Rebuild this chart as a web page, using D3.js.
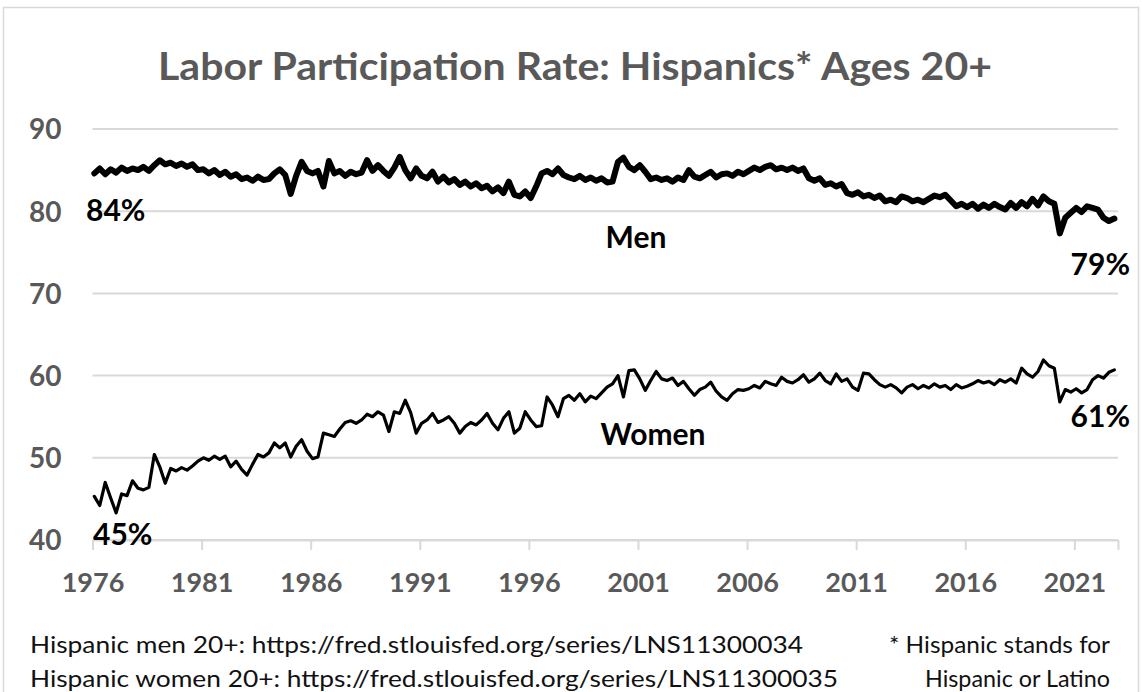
<!DOCTYPE html>
<html>
<head>
<meta charset="utf-8">
<script src="https://cdn.jsdelivr.net/npm/d3@7"></script>
<style>
  html, body { margin: 0; padding: 0; background: #fff; }
  svg { display: block; }
  text { font-family: Lato, "Open Sans", sans-serif; }
</style>
</head>
<body>
<svg id="chart" width="1142" height="692"></svg>
<script>
// ---------------- DATA ----------------
const startYear = 1976;               // first quarter = Q1 1976
const yTickValues = [40, 50, 60, 70, 80, 90];
const xTickValues = [1976, 1981, 1986, 1991, 1996, 2001, 2006, 2011, 2016, 2021];
const titleText = "Labor Participation Rate: Hispanics* Ages 20+";

// Hispanic men 20+, quarterly readings (%), 1976 Q1 .. 2022 Q4
const menRate = [
  84.6, 85.2, 84.5, 85.1,  84.7, 85.3, 84.9, 85.2,  85.0, 85.4, 84.9, 85.6,
  86.2, 85.7, 85.9, 85.5,  85.8, 85.4, 85.7, 85.0,  85.1, 84.6, 85.0, 84.4,
  84.8, 84.2, 84.5, 83.9,  84.1, 83.7, 84.2, 83.8,  83.9, 84.6, 85.1, 84.4,
  82.1, 84.3, 86.0, 84.9,  84.6, 84.9, 83.0, 86.1,  84.6, 84.9, 84.3, 84.8,
  84.5, 84.7, 86.2, 84.9,  85.6, 84.9, 84.3, 85.3,  86.6, 85.0, 84.0, 85.2,
  84.3, 84.0, 84.8, 83.6,  84.2, 83.5, 83.9, 83.2,  83.6, 83.0, 83.4, 82.8,
  83.1, 82.4, 82.9, 82.2,  83.6, 82.0, 81.8, 82.4,  81.6, 83.0, 84.6, 84.9,
  84.5, 85.2, 84.4, 84.1,  83.9, 84.3, 83.8, 84.1,  83.7, 84.0, 83.5, 83.6,
  86.0, 86.5, 85.4, 85.0,  85.6, 84.8, 83.9, 84.1,  83.8, 84.0, 83.6, 84.1,
  83.8, 85.0, 84.2, 84.0,  84.4, 84.8, 84.1, 84.5,  84.6, 84.3, 84.8, 84.5,
  84.9, 85.3, 85.0, 85.4,  85.6, 85.1, 85.3, 85.0,  85.3, 84.9, 85.2, 84.0,
  83.7, 84.0, 83.2, 83.4,  83.0, 83.3, 82.2, 82.0,  82.3, 81.8, 82.0, 81.6,
  81.9, 81.2, 81.4, 81.1,  81.8, 81.6, 81.2, 81.4,  81.1, 81.5, 81.9, 81.7,
  82.0, 81.3, 80.6, 80.9,  80.5, 80.9, 80.3, 80.8,  80.4, 80.9, 80.5, 80.2,
  81.0, 80.4, 81.1, 80.6,  81.5, 80.7, 81.8, 81.2,  80.9, 77.3, 79.2, 79.8,
  80.4, 79.9, 80.6, 80.4,  80.2, 79.2, 78.8, 79.1
];

// Hispanic women 20+, quarterly readings (%), 1976 Q1 .. 2022 Q4
const womenRate = [
  45.3, 44.2, 47.0, 45.1,  43.3, 45.6, 45.4, 47.2,  46.3, 46.1, 46.4, 50.4,
  48.9, 46.9, 48.7, 48.4,  48.8, 48.5, 49.0, 49.6,  50.0, 49.7, 50.2, 49.8,
  50.2, 48.9, 49.6, 48.6,  47.9, 49.2, 50.4, 50.1,  50.6, 51.8, 51.2, 51.8,
  50.1, 51.4, 52.2, 50.8,  49.9, 50.1, 53.0, 52.8,  52.6, 53.5, 54.3, 54.5,
  54.2, 54.6, 55.3, 55.0,  55.6, 55.2, 53.2, 55.6,  55.4, 57.0, 55.5, 53.0,
  54.2, 54.6, 55.4, 54.3,  54.6, 55.0, 54.2, 53.0,  53.8, 54.3, 54.0, 54.6,
  55.4, 54.2, 53.4, 54.8,  55.6, 53.0, 53.6, 55.6,  54.6, 53.8, 53.9, 57.4,
  56.4, 55.0, 57.2, 57.6,  57.0, 57.8, 56.8, 57.5,  57.2, 57.9, 58.6, 59.0,
  60.0, 57.4, 60.6, 60.7,  59.6, 58.2, 59.4, 60.5,  59.6, 59.4, 59.7, 58.8,
  59.3, 58.4, 57.6, 58.3,  58.6, 59.2, 58.1, 57.4,  57.0, 57.8, 58.3, 58.2,
  58.4, 58.8, 58.5, 59.3,  59.0, 58.8, 59.8, 59.3,  59.1, 59.5, 60.1, 59.2,
  59.6, 60.3, 59.4, 59.0,  60.2, 59.3, 59.6, 58.6,  58.2, 60.3, 60.2, 59.5,
  58.9, 58.6, 58.9, 58.5,  57.9, 58.6, 58.9, 58.4,  58.8, 58.5, 59.0, 58.6,
  58.8, 58.3, 58.9, 58.5,  58.7, 59.0, 59.4, 59.1,  59.3, 58.9, 59.5, 59.2,
  59.6, 59.1, 60.9, 60.2,  59.8, 60.5, 61.9, 61.2,  60.9, 56.8, 58.3, 58.0,
  58.4, 57.9, 58.3, 59.5,  60.0, 59.7, 60.4, 60.7
];

const footerLeft = [
  "Hispanic men 20+: https://fred.stlouisfed.org/series/LNS11300034",
  "Hispanic women 20+: https://fred.stlouisfed.org/series/LNS11300035"
];
const footerRight = ["* Hispanic stands for", "Hispanic or Latino"];

// ---------------- CHART ----------------
const svg = d3.select("#chart");
const plot = { left: 92.5, right: 1118, top: 129, bottom: 540 };
const grey = "#595959";
const gridColor = "#d9d9d9";

svg.append("rect").attr("width", 1142).attr("height", 692).attr("fill", "#fff");
svg.append("rect")
  .attr("x", 3.5).attr("y", 7.5).attr("width", 1135).attr("height", 700)
  .attr("fill", "none").attr("stroke", gridColor).attr("stroke-width", 1.5);

const x = d3.scaleLinear().domain([1976, 2023]).range([plot.left, plot.right]);
const y = d3.scaleLinear().domain([40, 90]).range([plot.bottom, plot.top]);

// title
svg.append("text")
  .attr("x", 575).attr("y", 80)
  .attr("text-anchor", "middle")
  .attr("font-size", 38).attr("font-weight", 700)
  .attr("fill", grey)
  .attr("textLength", 834).attr("lengthAdjust", "spacingAndGlyphs")
  .text(titleText);

// gridlines
svg.append("g").selectAll("line")
  .data(yTickValues)
  .join("line")
  .attr("x1", plot.left).attr("x2", plot.right)
  .attr("y1", d => y(d)).attr("y2", d => y(d))
  .attr("stroke", gridColor).attr("stroke-width", 2);

// y axis labels
const yAxis = d3.axisLeft(y).tickValues(yTickValues).tickSize(0).tickPadding(31).tickFormat(d3.format("d"));
const gy = svg.append("g").attr("transform", `translate(${plot.left},0)`).call(yAxis);
gy.select(".domain").remove();
gy.selectAll("text")
  .attr("font-family", "Lato, sans-serif")
  .attr("font-size", 28).attr("font-weight", 700).attr("fill", grey)
  .attr("dy", "0.35em");

// x axis
const xAxis = d3.axisBottom(x).tickValues(xTickValues.concat([2023])).tickSizeInner(10).tickSizeOuter(0)
  .tickPadding(23).tickFormat(d => d === 2023 ? "" : String(d));
const gx = svg.append("g").attr("transform", `translate(0,${plot.bottom})`).call(xAxis);
gx.select(".domain").attr("stroke", gridColor).attr("stroke-width", 2);
gx.selectAll(".tick line").attr("stroke", gridColor).attr("stroke-width", 2);
gx.selectAll("text")
  .attr("font-family", "Lato, sans-serif")
  .attr("font-size", 27).attr("font-weight", 700).attr("fill", grey)
  .attr("dy", "0.71em");

// lines
const tOf = i => startYear + (3 * i + 1) / 12;
const line = d3.line().x((d, i) => x(tOf(i))).y(d => y(d)).curve(d3.curveLinear);

svg.append("path").datum(womenRate)
  .attr("d", line).attr("fill", "none")
  .attr("stroke", "#000").attr("stroke-width", 3.2)
  .attr("stroke-linejoin", "round").attr("stroke-linecap", "round");

svg.append("path").datum(menRate)
  .attr("d", line).attr("fill", "none")
  .attr("stroke", "#000").attr("stroke-width", 6)
  .attr("stroke-linejoin", "round").attr("stroke-linecap", "round");

// annotations
const notes = [
  { t: "84%", x: 86, y: 221, a: "start" },
  { t: "Men", x: 636, y: 248, a: "middle" },
  { t: "79%", x: 1130, y: 275, a: "end" },
  { t: "Women", x: 653, y: 445, a: "middle" },
  { t: "61%", x: 1130, y: 427, a: "end" },
  { t: "45%", x: 93, y: 545, a: "start" }
];
svg.append("g").selectAll("text")
  .data(notes).join("text")
  .attr("x", d => d.x).attr("y", d => d.y)
  .attr("text-anchor", d => d.a)
  .attr("font-size", 30).attr("font-weight", 700).attr("fill", "#000")
  .text(d => d.t);

// footers
const footLeftLens = [773, 808];
svg.append("g").selectAll("text")
  .data(footerLeft).join("text")
  .attr("x", 30).attr("y", (d, i) => 653 + i * 34)
  .attr("font-size", 23).attr("fill", "#111")
  .attr("textLength", (d, i) => footLeftLens[i]).attr("lengthAdjust", "spacingAndGlyphs")
  .text(d => d);

const footRightLens = [221, 185];
svg.append("g").selectAll("text")
  .data(footerRight).join("text")
  .attr("x", 1110).attr("y", (d, i) => 653 + i * 34)
  .attr("text-anchor", "end")
  .attr("font-size", 23).attr("fill", "#111")
  .attr("textLength", (d, i) => footRightLens[i]).attr("lengthAdjust", "spacingAndGlyphs")
  .text(d => d);
</script>
</body>
</html>
